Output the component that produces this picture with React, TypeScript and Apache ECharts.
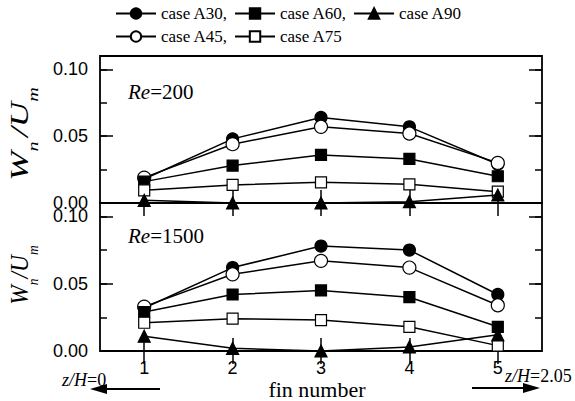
import React, { useEffect, useRef } from 'react';
import * as echarts from 'echarts';

// ---------- data ----------
const finNumbers = ['1', '2', '3', '4', '5'];
const seriesOrder = ['case A30', 'case A45', 'case A60', 'case A75', 'case A90'];
const legendOrder = ['case A30', 'case A60', 'case A90', 'case A45', 'case A75'];

// Re = 200 (upper panel)
const re200A30 = [0.018, 0.048, 0.064, 0.057, 0.029];
const re200A45 = [0.019, 0.044, 0.057, 0.052, 0.030];
const re200A60 = [0.016, 0.028, 0.036, 0.033, 0.020];
const re200A75 = [0.0095, 0.0135, 0.0155, 0.014, 0.0085];
const re200A90 = [0.002, 0.0, 0.0, 0.001, 0.006];

// Re = 1500 (lower panel)
const re1500A30 = [0.032, 0.062, 0.078, 0.075, 0.042];
const re1500A45 = [0.033, 0.057, 0.067, 0.062, 0.034];
const re1500A60 = [0.029, 0.042, 0.045, 0.040, 0.018];
const re1500A75 = [0.021, 0.024, 0.023, 0.018, 0.004];
const re1500A90 = [0.011, 0.002, 0.0, 0.003, 0.012];

const yMin = 0;
const yMax = 0.11;
const yMajor = 0.05;
const yMinor = 0.025;

const panelData = [
  [re200A30, re200A45, re200A60, re200A75, re200A90],
  [re1500A30, re1500A45, re1500A60, re1500A75, re1500A90],
];

const markerStyle: Record<string, { symbol: string; fill: string; size: number }> = {
  'case A30': { symbol: 'circle', fill: '#000', size: 12 },
  'case A45': { symbol: 'circle', fill: '#fff', size: 13 },
  'case A60': { symbol: 'rect', fill: '#000', size: 11 },
  'case A75': { symbol: 'rect', fill: '#fff', size: 11 },
  'case A90': { symbol: 'triangle', fill: '#000', size: 12 },
};

const SERIF = 'Liberation Serif';
const SANS = 'Liberation Sans';

export default function App() {
  const ref = useRef<HTMLDivElement>(null);

  useEffect(() => {
    if (!ref.current) return;
    const chart = echarts.init(ref.current, undefined, { renderer: 'svg' });

    const gridLeft = 100;
    const gridRight = 33;
    const grids = [
      { left: gridLeft, right: gridRight, top: 56, height: 147 },
      { left: gridLeft, right: gridRight, top: 203, height: 148 },
    ].map((g) => ({ ...g, show: true, borderColor: '#000', borderWidth: 1.8, backgroundColor: 'transparent' }));

    const tickLine = { color: '#000', width: 1.5 };

    const xAxes: any[] = [];
    const yAxes: any[] = [];
    [0, 1].forEach((g) => {
      ['bottom', 'top'].forEach((pos) => {
        xAxes.push({
          type: 'category',
          gridIndex: g,
          position: pos,
          data: finNumbers,
          boundaryGap: true,
          axisLine: { show: false },
          axisTick: { show: true, inside: true, length: 13, alignWithLabel: true, lineStyle: tickLine },
          axisLabel: {
            show: g === 1 && pos === 'bottom',
            color: '#000',
            fontFamily: SANS,
            fontSize: 18,
            margin: 8,
          },
          splitLine: { show: false },
        });
      });
      ['left', 'right'].forEach((pos) => {
        [yMajor, yMinor].forEach((iv) => {
          const major = iv === yMajor;
          yAxes.push({
            type: 'value',
            gridIndex: g,
            position: pos,
            min: yMin,
            max: yMax,
            interval: iv,
            axisLine: { show: false },
            splitLine: { show: false },
            axisTick: { show: true, inside: true, length: major ? 13 : 7, lineStyle: tickLine },
            axisLabel: {
              show: major && pos === 'left',
              showMaxLabel: false,
              formatter: (v: number) => v.toFixed(2),
              color: '#000',
              fontFamily: SANS,
              fontSize: 18,
              margin: 12,
            },
          });
        });
      });
    });

    const series: any[] = [];
    [0, 1].forEach((g) => {
      seriesOrder.forEach((name, i) => {
        const m = markerStyle[name];
        series.push({
          type: 'line',
          name,
          xAxisIndex: g * 2,
          yAxisIndex: g * 4,
          data: panelData[g][i],
          symbol: m.symbol,
          symbolSize: m.size,
          showSymbol: true,
          showAllSymbol: true,
          z: 2 + i,
          lineStyle: { color: '#000', width: 1.5 },
          itemStyle: { color: m.fill, borderColor: '#000', borderWidth: 1.2, opacity: 1 },
          emphasis: { disabled: true },
        });
      });
    });

    const yTitleRich = {
      w: { fontFamily: SERIF, fontStyle: 'italic', fontSize: 26, padding: [0, 0, 8, 0], verticalAlign: 'bottom' },
      s: { fontFamily: SERIF, fontStyle: 'italic', fontSize: 15, verticalAlign: 'bottom' },
    };
    const reRich = {
      i: { fontFamily: SERIF, fontStyle: 'italic', fontSize: 21 },
      r: { fontFamily: SERIF, fontSize: 21 },
    };
    const zRich = {
      i: { fontFamily: SERIF, fontStyle: 'italic', fontSize: 18 },
      r: { fontFamily: SERIF, fontSize: 18 },
    };

    const option: any = {
      animation: false,
      backgroundColor: '#fff',
      grid: grids,
      xAxis: xAxes,
      yAxis: yAxes,
      legend: {
        data: legendOrder,
        left: 115,
        top: 5,
        padding: 0,
        width: 360,
        orient: 'horizontal',
        itemWidth: 40,
        itemHeight: 13,
        itemGap: 6,
        selectedMode: false,
        formatter: (n: string) => (n === 'case A90' || n === 'case A75' ? n : n + ','),
        textStyle: { color: '#000', fontFamily: SERIF, fontSize: 17, lineHeight: 16 },
      },
      series,
      graphic: [
        {
          type: 'text',
          x: 23,
          y: 134,
          rotation: Math.PI / 2,
          scaleX: 1.35,
          style: {
            text: '{w|W}{s|n} {w|/U}{s|m}',
            rich: yTitleRich,
            align: 'center',
            verticalAlign: 'middle',
            fill: '#000',
          },
        },
        {
          type: 'text',
          x: 23,
          y: 275,
          rotation: Math.PI / 2,
          scaleX: 0.9,
          style: {
            text: '{w|W}{s|n}{w|/U}{s|m}',
            rich: yTitleRich,
            align: 'center',
            verticalAlign: 'middle',
            fill: '#000',
          },
        },
        {
          type: 'text',
          x: 128,
          y: 92,
          style: { text: '{i|Re}{r|=200}', rich: reRich, align: 'left', verticalAlign: 'middle', fill: '#000' },
        },
        {
          type: 'text',
          x: 128,
          y: 236,
          style: { text: '{i|Re}{r|=1500}', rich: reRich, align: 'left', verticalAlign: 'middle', fill: '#000' },
        },
        {
          type: 'text',
          x: 317,
          y: 389,
          style: { text: 'fin number', font: `22px "${SERIF}"`, align: 'center', verticalAlign: 'middle', fill: '#000' },
        },
        {
          type: 'text',
          x: 62,
          y: 380,
          style: { text: '{i|z/H}{r|=0}', rich: zRich, align: 'left', verticalAlign: 'middle', fill: '#000' },
        },
        {
          type: 'text',
          x: 505,
          y: 376,
          style: { text: '{i|z/H}{r|=2.05}', rich: zRich, align: 'left', verticalAlign: 'middle', fill: '#000' },
        },
        {
          type: 'line',
          shape: { x1: 160, y1: 389, x2: 104, y2: 389 },
          style: { stroke: '#000', lineWidth: 2 },
        },
        {
          type: 'polygon',
          shape: { points: [[90, 389], [107, 384], [107, 394]] },
          style: { fill: '#000' },
        },
        {
          type: 'line',
          shape: { x1: 472, y1: 388, x2: 526, y2: 388 },
          style: { stroke: '#000', lineWidth: 2 },
        },
        {
          type: 'polygon',
          shape: { points: [[540, 388], [523, 383], [523, 393]] },
          style: { fill: '#000' },
        },
      ],
    };

    chart.setOption(option);
    return () => chart.dispose();
  }, []);

  return (
    <div
      ref={ref}
      style={{ position: 'fixed', left: 0, top: 0, width: 575, height: 401, background: '#fff' }}
    />
  );
}
